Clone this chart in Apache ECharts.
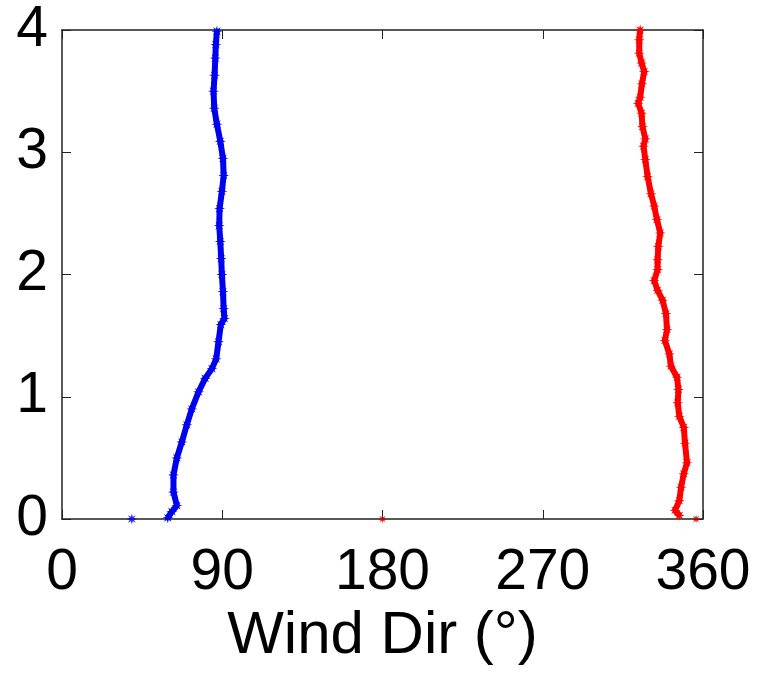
<!DOCTYPE html>
<html>
<head>
<meta charset="utf-8">
<script src="https://cdn.jsdelivr.net/npm/echarts@6/dist/echarts.min.js"></script>
<style>html,body{margin:0;padding:0;background:#fff;}#chart{width:758px;height:678px;}</style>
</head>
<body>
<div id="chart"></div>
<script>
// Tick labels
const xTicks = [0, 90, 180, 270, 360];
const yTicks = [0, 1, 2, 3, 4];

// Blue profile: height (km) and wind direction (deg)
const blueHeight = [0.01,0.06,0.11,0.22,0.36,0.50,0.63,0.77,0.90,1.04,1.15,1.23,1.31,1.45,1.59,1.64,1.72,1.86,2.00,2.13,2.27,2.40,2.54,2.68,2.81,2.95,3.09,3.23,3.36,3.50,3.63,3.77,3.88,3.99];
const blueDir    = [59.4,61.7,64.5,62.6,62.6,64.5,67.3,70.1,72.9,76.7,80.4,84.2,86.6,87.9,89.2,91.2,90.8,90.4,89.8,89.4,88.9,88.3,88.5,89.8,90.8,90.4,88.9,87.0,85.5,85.1,85.7,86.1,86.4,87.0];

// Red profile: height (km) and wind direction (deg)
const redHeight = [0.03,0.07,0.15,0.26,0.37,0.46,0.62,0.75,0.84,0.95,1.06,1.16,1.25,1.35,1.46,1.55,1.68,1.79,1.87,1.95,2.04,2.12,2.23,2.34,2.45,2.56,2.66,2.80,2.94,3.05,3.11,3.21,3.32,3.40,3.45,3.56,3.66,3.73,3.81,3.92,4.00];
const redDir    = [346.7,344.3,346.7,347.7,349.2,351.0,349.9,349.2,346.7,345.8,346.2,345.4,342.0,341.1,338.6,339.8,339.2,337.3,334.5,332.6,334.5,334.5,334.9,336.0,334.1,332.6,330.8,328.9,327.6,326.6,327.6,326.0,325.5,323.6,324.7,325.7,327.0,325.5,324.2,324.2,324.7];

// Isolated surface points
const blueSurfaceDir = [39.2];
const blueSurfaceHeight = [0];
const redSurfaceDir = [180, 356.1];
const redSurfaceHeight = [0, 0];

const zip = (xs, ys) => xs.map((x, i) => [x, ys[i]]);

const FONT = 'Liberation Sans, Arial, sans-serif';
const star = 'path://M0,-10 L1.6,-3.9 L7,-7 L3.9,-1.6 L10,0 L3.9,1.6 L7,7 L1.6,3.9 L0,10 L-1.6,3.9 L-7,7 L-3.9,1.6 L-10,0 L-3.9,-1.6 L-7,-7 L-1.6,-3.9 Z';
const BLUE = '#0000ee';
const RED = '#ff0000';
const AXIS = '#222222';

const chart = echarts.init(document.getElementById('chart'), null, {renderer: 'canvas'});
chart.setOption({
  backgroundColor: '#ffffff',
  animation: false,
  grid: {left: 62, right: 55, top: 30, bottom: 159, containLabel: false},
  xAxis: [{
    type: 'value', min: 0, max: 360, interval: 90,
    position: 'bottom',
    name: 'Wind Dir (°)', nameLocation: 'middle', nameGap: 85,
    nameTextStyle: {fontFamily: FONT, fontSize: 60, color: '#000'},
    axisLine: {show: true, onZero: false, lineStyle: {color: AXIS, width: 1.5}},
    axisTick: {show: true, inside: true, length: 9, lineStyle: {color: AXIS}},
    axisLabel: {fontFamily: FONT, fontSize: 57, color: '#000', margin: 26,
      customValues: xTicks},
    splitLine: {show: false}
  }, {
    type: 'value', min: 0, max: 360, interval: 90,
    position: 'top',
    axisLine: {show: true, onZero: false, lineStyle: {color: AXIS, width: 1.5}},
    axisTick: {show: true, inside: true, length: 9, lineStyle: {color: AXIS}},
    axisLabel: {show: false},
    splitLine: {show: false}
  }],
  yAxis: [{
    type: 'value', min: 0, max: 4, interval: 1,
    position: 'left',
    axisLine: {show: true, onZero: false, lineStyle: {color: AXIS, width: 1.5}},
    axisTick: {show: true, inside: true, length: 9, lineStyle: {color: AXIS}},
    axisLabel: {fontFamily: FONT, fontSize: 57, color: '#000', margin: 14,
      customValues: yTicks},
    splitLine: {show: false}
  }, {
    type: 'value', min: 0, max: 4, interval: 1,
    position: 'right',
    axisLine: {show: true, onZero: false, lineStyle: {color: AXIS, width: 1.5}},
    axisTick: {show: true, inside: true, length: 9, lineStyle: {color: AXIS}},
    axisLabel: {show: false},
    splitLine: {show: false}
  }],
  series: [
    {
      type: 'line', xAxisIndex: 0, yAxisIndex: 0,
      data: zip(blueDir, blueHeight),
      symbol: star, symbolSize: 11, showAllSymbol: true,
      lineStyle: {color: BLUE, width: 6},
      itemStyle: {color: BLUE}
    },
    {
      type: 'line', xAxisIndex: 0, yAxisIndex: 0,
      data: zip(redDir, redHeight),
      symbol: star, symbolSize: 11, showAllSymbol: true,
      lineStyle: {color: RED, width: 6},
      itemStyle: {color: RED}
    },
    {
      type: 'scatter', xAxisIndex: 0, yAxisIndex: 0,
      data: zip(blueSurfaceDir, blueSurfaceHeight),
      symbol: star, symbolSize: 11,
      itemStyle: {color: BLUE}
    },
    {
      type: 'scatter', xAxisIndex: 0, yAxisIndex: 0,
      data: zip(redSurfaceDir, redSurfaceHeight),
      symbol: star, symbolSize: 9,
      itemStyle: {color: '#cc0000'}
    }
  ]
});
</script>
</body>
</html>
